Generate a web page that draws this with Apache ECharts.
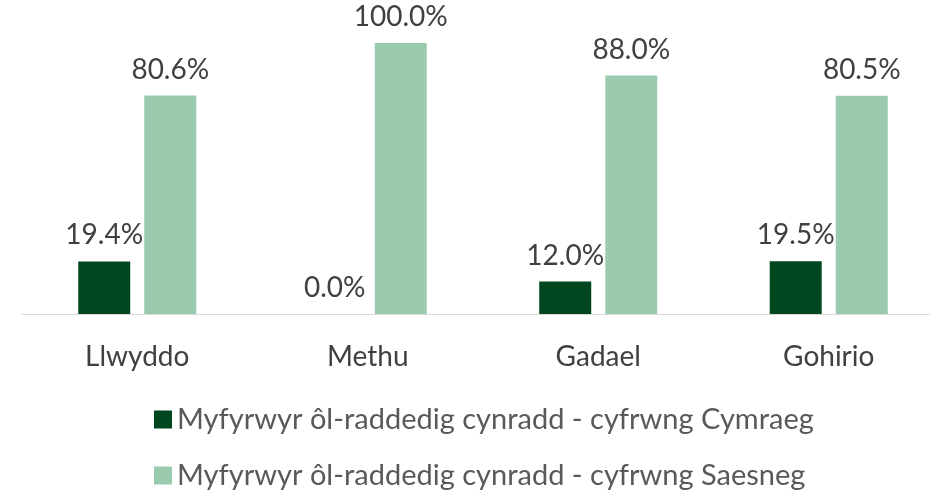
<!DOCTYPE html>
<html>
<head>
<meta charset="utf-8">
<script src="https://cdn.jsdelivr.net/npm/echarts@6/dist/echarts.min.js"></script>
<style>
	html, body { margin: 0; padding: 0; background: #fff; }
	#chart { width: 930px; height: 490px; }
</style>
</head>
<body>
<div id="chart"></div>
<script>
const categories = ['Llwyddo', 'Methu', 'Gadael', 'Gohirio']
const seriesNames = [
	'Myfyrwyr ôl-raddedig cynradd - cyfrwng Cymraeg',
	'Myfyrwyr ôl-raddedig cynradd - cyfrwng Saesneg'
]
const cymraeg = [19.4, 0.0, 12.0, 19.5]
const saesneg = [80.6, 100.0, 88.0, 80.5]

const fontFamily = 'Lato, "Open Sans", sans-serif'

const myChart = echarts.init(document.getElementById('chart'))

const labelStyle = {
	show: true,
	position: 'top',
	distance: 12,
	color: '#404040',
	fontSize: 28,
	fontFamily: fontFamily,
	formatter: (p) => p.value.toFixed(1) + '%'
}

myChart.setOption({
	animation: false,
	grid: {
		left: 22,
		top: 43,
		width: 922,
		height: 271,
		outerBoundsMode: 'none'
	},
	legend: {
		orient: 'vertical',
		left: 154,
		top: 405,
		height: 85,
		padding: 0,
		itemWidth: 18,
		itemHeight: 18,
		itemGap: 27,
		icon: 'rect',
		textStyle: {
			color: '#595959',
			fontSize: 29,
			lineHeight: 29,
			fontFamily: fontFamily
		},
		data: seriesNames
	},
	xAxis: {
		type: 'category',
		data: categories,
		axisLine: { lineStyle: { color: '#d9d9d9', width: 1 } },
		axisTick: { show: false },
		axisLabel: {
			color: '#404040',
			fontSize: 28,
			fontFamily: fontFamily,
			margin: 29
		}
	},
	yAxis: {
		type: 'value',
		min: 0,
		max: 100,
		show: false,
		splitLine: { show: false }
	},
	series: [
		{
			name: seriesNames[0],
			type: 'bar',
			barWidth: 52,
			barGap: '27%',
			itemStyle: { color: '#00461f' },
			label: labelStyle,
			data: cymraeg
		},
		{
			name: seriesNames[1],
			type: 'bar',
			barWidth: 52,
			barGap: '27%',
			itemStyle: { color: '#9bcbaf' },
			label: labelStyle,
			data: saesneg
		}
	]
})
</script>
</body>
</html>
